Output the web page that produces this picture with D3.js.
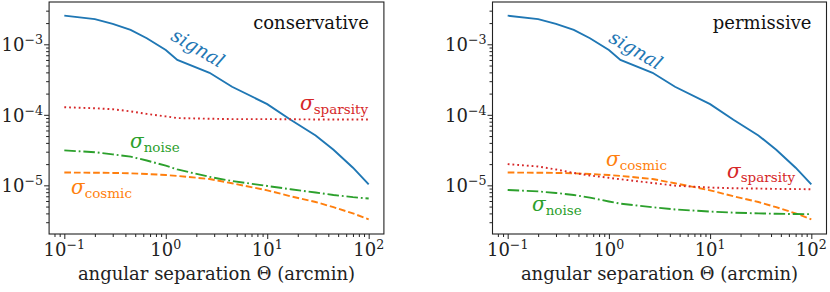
<!DOCTYPE html>
<html>
<head>
<meta charset="utf-8">
<script src="https://cdn.jsdelivr.net/npm/d3@7"></script>
</head>
<body style="margin:0">
<script>
// angular separation bins (arcmin)
var theta = [0.1, 0.2, 0.3, 0.45, 0.65, 1.0, 1.3, 2.7, 4.5, 10, 17, 30, 45, 70, 100];

// signal, same in both panels
var signal = [2.55e-3, 2.28e-3, 1.95e-3, 1.6e-3, 1.22e-3, 8.3e-4, 6.0e-4, 3.95e-4, 2.5e-4,
              1.42e-4, 8.5e-5, 5.1e-5, 3.2e-5, 1.78e-5, 1.03e-5];
// cosmic variance, same in both panels
var cosmic = [1.52e-5, 1.51e-5, 1.5e-5, 1.48e-5, 1.45e-5, 1.4e-5, 1.36e-5, 1.23e-5, 1.07e-5,
              8.5e-6, 7.0e-6, 5.8e-6, 4.9e-6, 4.0e-6, 3.3e-6];

// conservative
var consSparsity = [1.28e-4, 1.24e-4, 1.2e-4, 1.12e-4, 1.03e-4, 9.5e-5, 9.0e-5, 8.8e-5, 8.7e-5,
                    8.7e-5, 8.65e-5, 8.6e-5, 8.6e-5, 8.6e-5, 8.6e-5];
var consNoise = [3.13e-5, 2.95e-5, 2.75e-5, 2.55e-5, 2.25e-5, 1.9e-5, 1.68e-5, 1.32e-5, 1.15e-5,
                 9.8e-6, 8.8e-6, 7.9e-6, 7.3e-6, 6.8e-6, 6.5e-6];

// permissive
var permSparsity = [2.0e-5, 1.85e-5, 1.68e-5, 1.5e-5, 1.38e-5, 1.28e-5, 1.22e-5, 1.08e-5, 9.9e-6,
                    9.3e-6, 9.1e-6, 9.0e-6, 8.9e-6, 8.85e-6, 8.8e-6];
var permNoise = [8.6e-6, 8.2e-6, 7.8e-6, 7.3e-6, 6.7e-6, 5.9e-6, 5.5e-6, 4.9e-6, 4.55e-6,
                 4.25e-6, 4.1e-6, 4.0e-6, 3.95e-6, 3.92e-6, 3.9e-6];

var xTickExp = [-1, 0, 1, 2];
var yTickExp = [-5, -4, -3];

var W = 830, H = 292;
var top_ = 2, bottom = 234;
var fontSize = 18;
var family = "'DejaVu Serif', serif";

var colors = { signal: "#1f77b4", cosmic: "#ff7f0e", noise: "#2ca02c", sparsity: "#d62728" };
var dashes = { signal: null, cosmic: "6.7,2.9", noise: "11.5,2.9,1.8,2.9", sparsity: "1.8,3" };

var panels = [
  { left: 49.1, right: 383.9, title: "conservative",
    series: [
      { key: "signal", values: signal },
      { key: "sparsity", values: consSparsity },
      { key: "noise", values: consNoise },
      { key: "cosmic", values: cosmic }
    ],
    labels: [
      { key: "signal", x: 198, y: 48, rot: 30 },
      { key: "sparsity", x: 300, y: 110 },
      { key: "noise", x: 130, y: 148 },
      { key: "cosmic", x: 71, y: 194 }
    ] },
  { left: 492.5, right: 826.5, title: "permissive",
    series: [
      { key: "signal", values: signal },
      { key: "sparsity", values: permSparsity },
      { key: "noise", values: permNoise },
      { key: "cosmic", values: cosmic }
    ],
    labels: [
      { key: "signal", x: 636, y: 50, rot: 30 },
      { key: "cosmic", x: 606, y: 166 },
      { key: "sparsity", x: 727, y: 178 },
      { key: "noise", x: 532, y: 211 }
    ] }
];

var svg = d3.select("body").append("svg")
  .attr("width", W).attr("height", H)
  .style("font-family", family);

var y = d3.scaleLog()
  .domain([Math.pow(10, -5.69), Math.pow(10, -2.40)])
  .range([bottom, top_]);

function minorTicks(lo, hi) {
  var out = [];
  for (var e = Math.floor(Math.log10(lo)); e <= Math.ceil(Math.log10(hi)); e++) {
    for (var m = 2; m <= 9; m++) {
      var v = m * Math.pow(10, e);
      if (v >= lo && v <= hi) out.push(v);
    }
  }
  return out;
}

function powerLabel(sel, e) {
  sel.append("tspan").text("10");
  sel.append("tspan")
    .attr("dy", -7)
    .attr("font-size", fontSize * 0.7)
    .text(e < 0 ? "\u2212" + (-e) : String(e));
}

function addText(g, size) {
  return g.append("text")
    .style("font-family", family)
    .attr("font-size", size);
}

panels.forEach(function(p) {
  var x = d3.scaleLog()
    .domain([Math.pow(10, -1.15), Math.pow(10, 2.15)])
    .range([p.left, p.right]);

  var g = svg.append("g");

  // lines
  var line = d3.line()
    .x(function(d) { return x(d[0]); })
    .y(function(d) { return y(d[1]); });

  var order = ["signal", "cosmic", "noise", "sparsity"];
  order.forEach(function(k) {
    var s = p.series.find(function(d) { return d.key === k; });
    g.append("path")
      .datum(theta.map(function(t, i) { return [t, s.values[i]]; }))
      .attr("d", line)
      .attr("fill", "none")
      .attr("stroke", colors[k])
      .attr("stroke-width", 1.9)
      .attr("stroke-dasharray", dashes[k]);
  });

  // x axis
  var xMajor = xTickExp.map(function(e) { return Math.pow(10, e); });
  var xAxis = d3.axisBottom(x).tickValues(xMajor).tickSize(5).tickFormat("");
  var xMinor = d3.axisBottom(x).tickValues(minorTicks(x.domain()[0], x.domain()[1]))
    .tickSize(3).tickFormat("");
  g.append("g").attr("transform", "translate(0," + bottom + ")").call(xAxis);
  g.append("g").attr("transform", "translate(0," + bottom + ")").call(xMinor);

  // y axis
  var yMajor = yTickExp.map(function(e) { return Math.pow(10, e); });
  var yAxis = d3.axisLeft(y).tickValues(yMajor).tickSize(5).tickFormat("");
  var yMinor = d3.axisLeft(y).tickValues(minorTicks(y.domain()[0], y.domain()[1]))
    .tickSize(3).tickFormat("");
  g.append("g").attr("transform", "translate(" + p.left + ",0)").call(yAxis);
  g.append("g").attr("transform", "translate(" + p.left + ",0)").call(yMinor);

  g.selectAll(".domain").remove();
  g.selectAll(".tick line").attr("stroke", "#222").attr("stroke-width", 1);

  // frame
  g.append("rect")
    .attr("x", p.left).attr("y", top_)
    .attr("width", p.right - p.left).attr("height", bottom - top_)
    .attr("fill", "none").attr("stroke", "#222").attr("stroke-width", 1.1);

  // tick labels
  xTickExp.forEach(function(e) {
    var t = addText(g, fontSize)
      .attr("x", x(Math.pow(10, e)))
      .attr("y", 256)
      .attr("text-anchor", "middle")
      .attr("fill", "#222");
    powerLabel(t, e);
  });
  yTickExp.forEach(function(e) {
    var t = addText(g, fontSize)
      .attr("x", p.left - 6)
      .attr("y", y(Math.pow(10, e)) + 7)
      .attr("text-anchor", "end")
      .attr("fill", "#222");
    powerLabel(t, e);
  });

  // axis label
  addText(g, fontSize)
    .attr("x", (x(0.1) + x(100)) / 2)
    .attr("y", 280)
    .attr("text-anchor", "middle")
    .attr("fill", "#222")
    .text("angular separation \u0398 (arcmin)");

  // panel title
  addText(g, fontSize)
    .attr("x", p.right - 15)
    .attr("y", 29)
    .attr("text-anchor", "end")
    .attr("fill", "#111")
    .text(p.title);

  // series labels
  p.labels.forEach(function(l) {
    if (l.key === "signal") {
      addText(g, fontSize + 1)
        .attr("transform", "translate(" + l.x + "," + l.y + ") rotate(" + l.rot + ")")
        .attr("text-anchor", "middle")
        .attr("dy", "0.35em")
        .attr("font-style", "italic")
        .attr("fill", colors.signal)
        .text("signal");
    } else {
      var t = addText(g, fontSize + 2)
        .attr("x", l.x).attr("y", l.y)
        .attr("fill", colors[l.key]);
      t.append("tspan").attr("font-style", "italic").text("\u03c3");
      t.append("tspan").attr("dy", 4).attr("font-size", 13.5).text(l.key);
    }
  });
});
</script>
</body>
</html>
